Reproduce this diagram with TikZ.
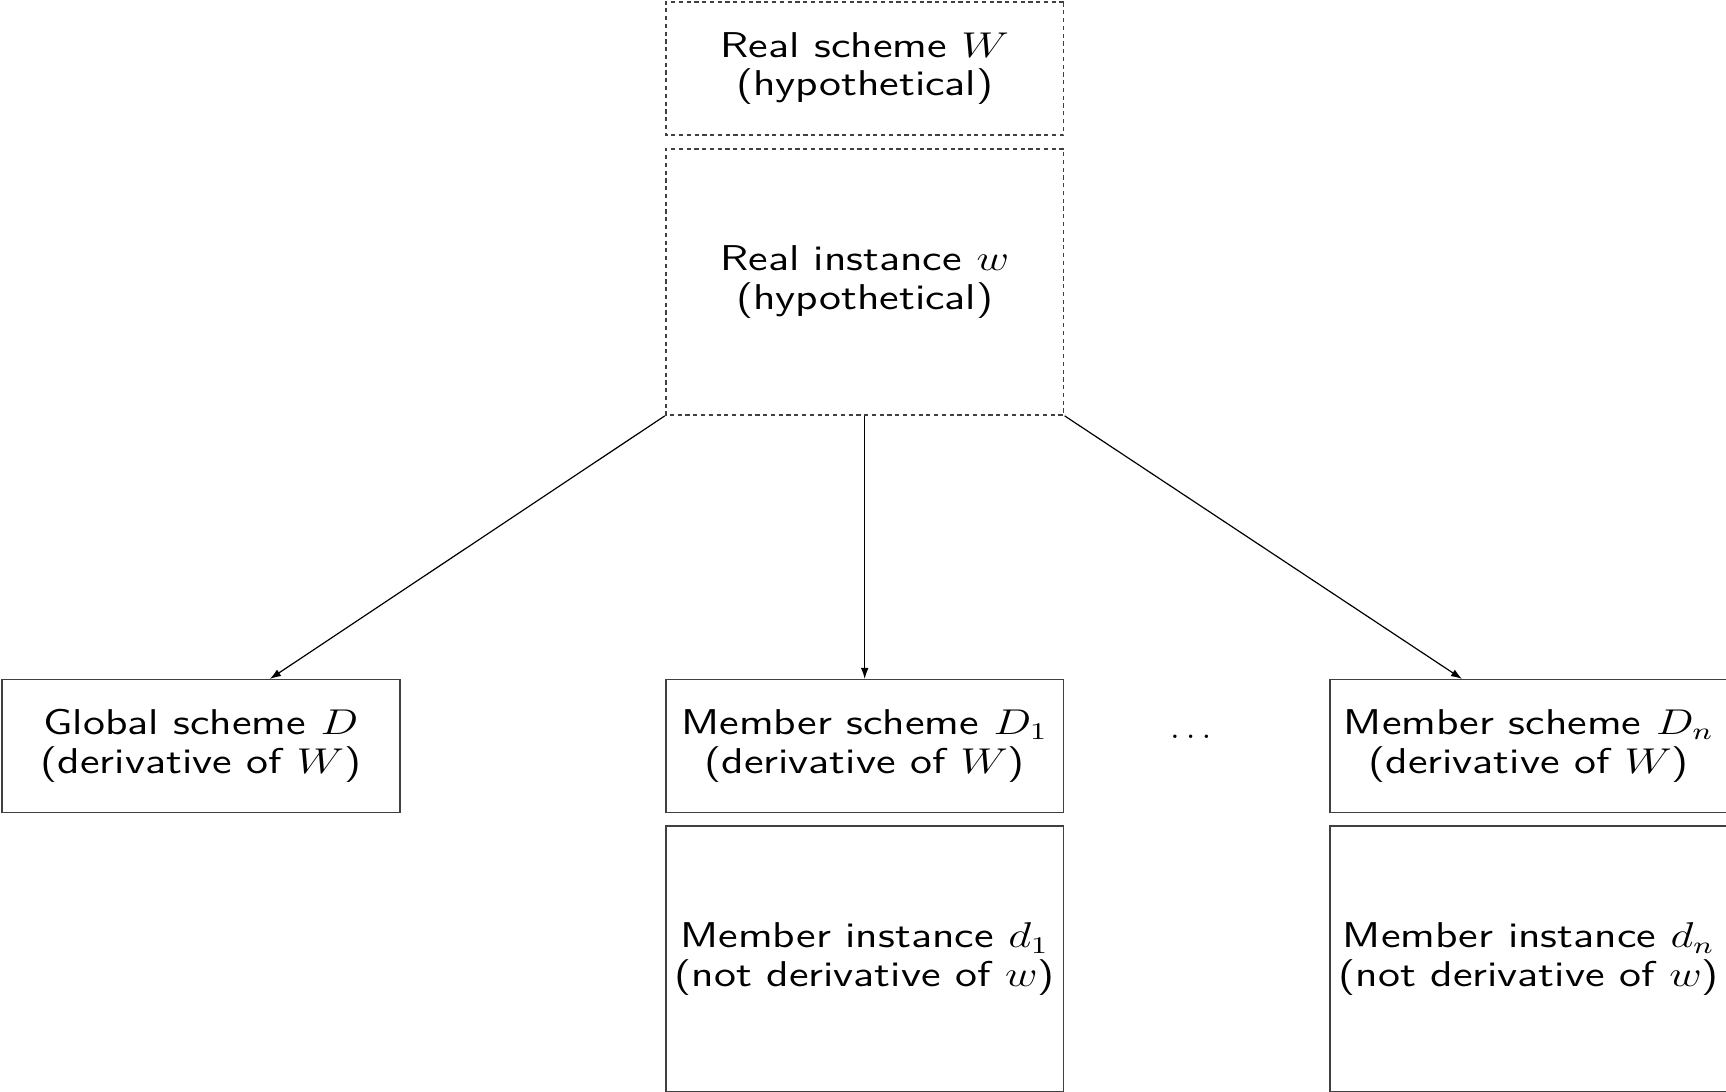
\documentclass[tikz,border=0pt]{standalone}
\usepackage{amsmath,amssymb}
\usepackage{tikz}
\usetikzlibrary{calc,arrows.meta,positioning}

\begin{document}
\begin{tikzpicture}[x=1cm,y=1cm,
      font=\sffamily\fontsize{12}{13}\selectfont,
      box/.style={xscale=1.25,minimum width=3.744cm,minimum height=1.56cm,
                  inner sep=0pt,draw=black!75,line width=0.5pt,align=center},
      tall/.style={box,minimum height=3.13cm},
      hyp/.style={dash pattern=on 1.4pt off 1.2pt},
      arr/.style={-{Latex[length=1.3mm,width=0.9mm]},line width=0.4pt}]
    \useasboundingbox (0,0) rectangle (20.3,-12.84);
    \node[box,hyp]  (W)  at (10.17,-0.806) {Real scheme $W$\\(hypothetical)};
    \node[tall,hyp] (w)  at (10.17,-3.317) {Real instance $w$\\(hypothetical)};
    \node[box]      (D)  at (2.364,-8.774) {Global scheme $D$\\(derivative of $W$)};
    \node[box]      (D1) at (10.17,-8.774) {Member scheme $D_1$\\(derivative of $W$)};
    \node[box]      (Dn) at (17.98,-8.774) {Member scheme $D_n$\\(derivative of $W$)};
    \node[tall]     (d1) at (10.17,-11.28) {Member instance $d_1$\\(not derivative of $w$)};
    \node[tall]     (dn) at (17.98,-11.28) {Member instance $d_n$\\(not derivative of $w$)};
    \node (dots) at (14.04,-8.66) {$\dots$};
    \draw[arr] (w.south west) -- ([xshift=0.81cm]D.north);
    \draw[arr] (w.south) -- (D1.north);
    \draw[arr] (w.south east) -- ([xshift=-0.785cm]Dn.north);
  \end{tikzpicture}
\end{document}
